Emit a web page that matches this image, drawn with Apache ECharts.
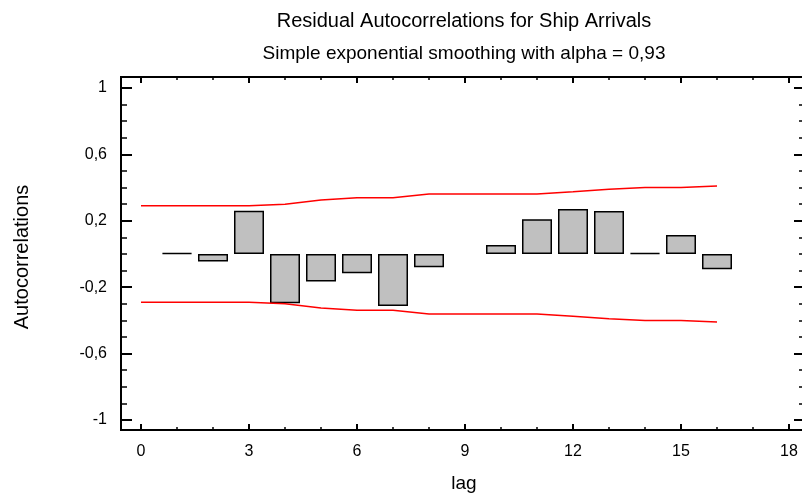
<!DOCTYPE html>
<html>
<head>
<meta charset="utf-8">
<title>Residual Autocorrelations for Ship Arrivals</title>
<script src="https://cdn.jsdelivr.net/npm/echarts@6/dist/echarts.min.js"></script>
<style>
	html, body { margin: 0; padding: 0; background: #fff; }
	#chart { width: 802px; height: 495px; }
</style>
</head>
<body>
<div id="chart"></div>
<script>
	// lags 1..16, residual autocorrelations ('-' = nothing drawn)
	var lags = [1, 2, 3, 4, 5, 6, 7, 8, 9, 10, 11, 12, 13, 14, 15, 16];
	var acf = [0.005, -0.045, 0.26, -0.297, -0.165, -0.116, -0.313, -0.08, '-', 0.054, 0.21, 0.271, 0.259, 0.005, 0.114, -0.092];

	// 95% probability limits, lags 0..16
	var limitLags = [0, 1, 2, 3, 4, 5, 6, 7, 8, 9, 10, 11, 12, 13, 14, 15, 16];
	var upperLimit = [0.29, 0.29, 0.29, 0.29, 0.30, 0.325, 0.339, 0.339, 0.361, 0.361, 0.361, 0.361, 0.375, 0.39, 0.40, 0.40, 0.41];
	var lowerLimit = [-0.29, -0.29, -0.29, -0.29, -0.30, -0.325, -0.339, -0.339, -0.361, -0.361, -0.361, -0.361, -0.375, -0.39, -0.40, -0.40, -0.41];

	var xTicks = { min: 0, max: 18, interval: 3 };
	var yTicks = { min: -1, max: 1, interval: 0.4 };

	var titleText = 'Residual Autocorrelations for Ship Arrivals';
	var subTitleText = 'Simple exponential smoothing with alpha = 0,93';

	var font = 'Liberation Sans, Arial, sans-serif';

	function pairs(xs, ys) {
		var out = [];
		for (var i = 0; i < xs.length; i++) {
			out.push([xs[i], ys[i]]);
		}
		return out;
	}

	function commaLabel(v) {
		var r = Math.round(v * 10) / 10;
		return String(r).replace('.', ',');
	}

	var echart = echarts.init(document.getElementById('chart'), null, { renderer: 'canvas' });

	var tickLine = { color: '#000', width: 2 };
	var minorLine = { color: '#000', width: 1.5 };

	// axis helper: ticks only, line drawn by the frame grid
	function frameAxis(extra) {
		var ax = {
			gridIndex: 1, type: 'value',
			axisLine: { show: false, onZero: false },
			splitLine: { show: false },
			axisLabel: { show: false }
		};
		for (var k in extra) ax[k] = extra[k];
		return ax;
	}

	var option = {
		animation: false,
		backgroundColor: '#fff',
		grid: [{
			// frame box (right edge runs off the picture)
			left: 121, top: 77, width: 690, height: 353,
			outerBoundsMode: 'none',
			show: true, borderColor: '#000', borderWidth: 2, backgroundColor: 'transparent'
		}, {
			// data area: x 0..18, y -1..1
			left: 141, top: 88, width: 648, height: 332,
			outerBoundsMode: 'none'
		}],
		xAxis: [frameAxis({
			position: 'bottom', offset: 10,
			min: xTicks.min, max: xTicks.max, interval: xTicks.interval,
			axisTick: { show: true, inside: true, length: 6, lineStyle: tickLine },
			minorTick: { show: true, splitNumber: 3, length: 3, lineStyle: minorLine },
			axisLabel: { show: true, margin: 14, color: '#000', fontSize: 16, fontFamily: font }
		}), frameAxis({
			position: 'top', offset: 11,
			min: xTicks.min, max: xTicks.max, interval: xTicks.interval,
			axisTick: { show: true, inside: true, length: 6, lineStyle: tickLine },
			minorTick: { show: true, splitNumber: 3, length: 3, lineStyle: minorLine }
		})],
		yAxis: [frameAxis({
			position: 'left', offset: 20,
			min: yTicks.min, max: yTicks.max, interval: yTicks.interval,
			axisTick: { show: true, inside: true, length: 11, lineStyle: tickLine },
			minorTick: { show: true, splitNumber: 4, length: 6, lineStyle: minorLine },
			axisLabel: { show: true, margin: 14, color: '#000', fontSize: 16, fontFamily: font, formatter: commaLabel }
		}), frameAxis({
			position: 'right', offset: 16,
			min: yTicks.min, max: yTicks.max, interval: yTicks.interval,
			axisTick: { show: true, inside: true, length: 11, lineStyle: tickLine },
			minorTick: { show: true, splitNumber: 4, length: 6, lineStyle: minorLine }
		})],
		graphic: [{
			type: 'text', x: 464, y: 21,
			style: { text: titleText, textAlign: 'center', textVerticalAlign: 'middle', font: '20px ' + font, fill: '#000' }
		}, {
			type: 'text', x: 464, y: 54,
			style: { text: subTitleText, textAlign: 'center', textVerticalAlign: 'middle', font: '19px ' + font, fill: '#000' }
		}, {
			type: 'text', x: 22, y: 257, rotation: Math.PI / 2,
			style: { text: 'Autocorrelations', textAlign: 'center', textVerticalAlign: 'middle', font: '20px ' + font, fill: '#000' }
		}, {
			type: 'text', x: 464, y: 484,
			style: { text: 'lag', textAlign: 'center', textVerticalAlign: 'middle', font: '19px ' + font, fill: '#000' }
		}],
		series: [{
			name: 'acf',
			type: 'bar',
			xAxisIndex: 0, yAxisIndex: 0,
			barWidth: 30,
			itemStyle: { color: '#c0c0c0', borderColor: '#000', borderWidth: 1.5 },
			data: pairs(lags, acf)
		}, {
			name: 'upper',
			type: 'line',
			xAxisIndex: 0, yAxisIndex: 0,
			showSymbol: false, symbol: 'none',
			lineStyle: { color: '#ff0000', width: 1.5 },
			data: pairs(limitLags, upperLimit)
		}, {
			name: 'lower',
			type: 'line',
			xAxisIndex: 0, yAxisIndex: 0,
			showSymbol: false, symbol: 'none',
			lineStyle: { color: '#ff0000', width: 1.5 },
			data: pairs(limitLags, lowerLimit)
		}]
	};

	echart.setOption(option);
</script>
</body>
</html>
